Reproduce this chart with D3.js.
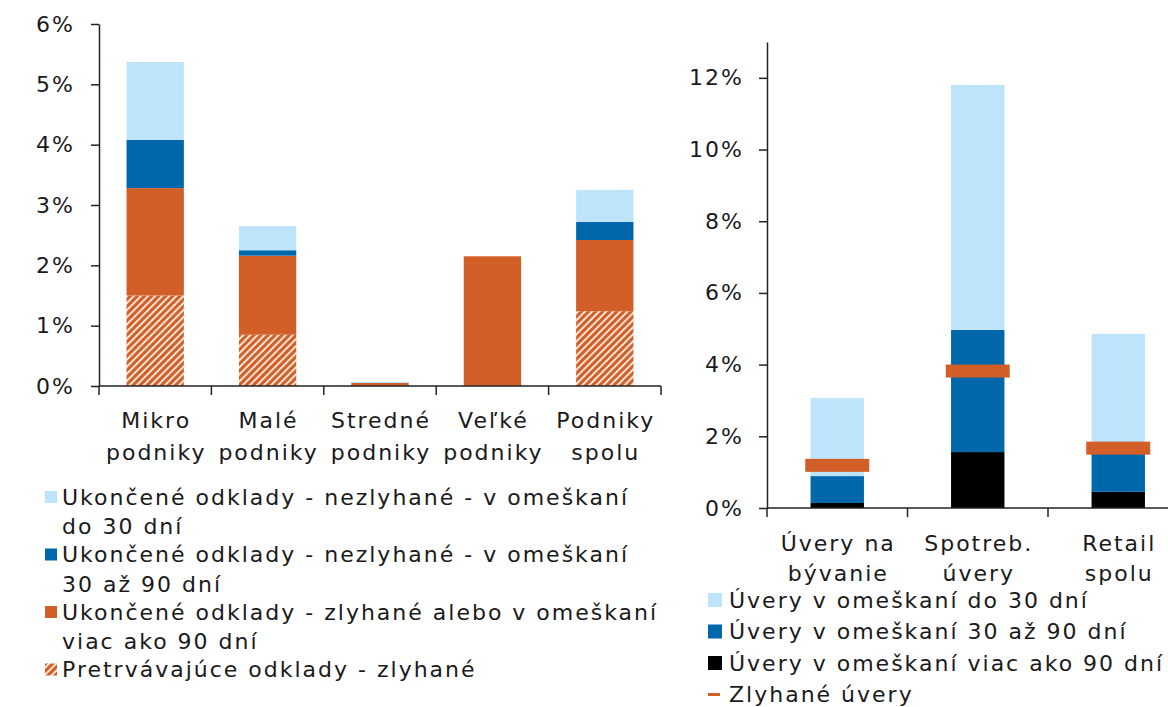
<!DOCTYPE html>
<html>
<head>
<meta charset="utf-8">
<script src="https://cdn.jsdelivr.net/npm/d3@7"></script>
<style>
  body { margin: 0; background: #fff; }
  text { font-family: "DejaVu Sans", Verdana, sans-serif; fill: #1a1a1a; letter-spacing: 2px; }
</style>
</head>
<body>
<div id="chart"></div>
<script>
// left panel - firms
var firmCats = ["Mikro podniky", "Malé podniky", "Stredné podniky", "Veľké podniky", "Podniky spolu"];
var firmCatLines = [["Mikro", "podniky"], ["Malé", "podniky"], ["Stredné", "podniky"], ["Veľké", "podniky"], ["Podniky", "spolu"]];
var firmPersist = [1.50, 0.85, 0.00, 0.00, 1.24];
var firmOver90 = [1.78, 1.31, 0.05, 2.15, 1.18];
var firm30to90 = [0.80, 0.09, 0.00, 0.00, 0.30];
var firmTo30 = [1.29, 0.40, 0.02, 0.00, 0.53];
var firmTicks = [0, 1, 2, 3, 4, 5, 6];
var firmLegend = [
  ["Ukončené odklady - nezlyhané - v omeškaní", "do 30 dní"],
  ["Ukončené odklady - nezlyhané - v omeškaní", "30 až 90 dní"],
  ["Ukončené odklady - zlyhané alebo v omeškaní", "viac ako 90 dní"],
  ["Pretrvávajúce odklady - zlyhané"]
];

// right panel - retail
var retailCats = ["Úvery na bývanie", "Spotreb. úvery", "Retail spolu"];
var retailCatLines = [["Úvery na", "bývanie"], ["Spotreb.", "úvery"], ["Retail", "spolu"]];
var retailOver90 = [0.14, 1.56, 0.45];
var retail30to90 = [0.75, 3.41, 1.25];
var retailTo30 = [2.18, 6.83, 3.16];
var retailDefault = [1.19, 3.82, 1.67];
var retailTicks = [0, 2, 4, 6, 8, 10, 12];
var retailLegend = ["Úvery v omeškaní do 30 dní", "Úvery v omeškaní 30 až 90 dní", "Úvery v omeškaní viac ako 90 dní", "Zlyhané úvery"];

var lightBlue = "#bde4fb", darkBlue = "#0067ab", orange = "#d15f27", black = "#000";
var fontSize = 22;

var svg = d3.select("#chart").append("svg")
  .attr("width", 1168).attr("height", 707);

var defs = svg.append("defs");
var pat = defs.append("pattern")
  .attr("id", "hatch")
  .attr("patternUnits", "userSpaceOnUse")
  .attr("width", 5).attr("height", 5)
  .attr("patternTransform", "rotate(45)");
pat.append("rect").attr("width", 5).attr("height", 5).attr("fill", "#fbe2d4");
pat.append("rect").attr("width", 3).attr("height", 5).attr("fill", orange);

function pct(d) { return d + "%"; }

function styleAxis(g) {
  g.selectAll("path, line").attr("stroke", "#222").attr("stroke-width", 1.5);
  g.selectAll("text").attr("font-size", fontSize).attr("fill", "#1a1a1a")
    .style("font-family", "'DejaVu Sans', Verdana, sans-serif");
}

function catLabels(g, x, cats, lines, y0, lineH) {
  cats.forEach(function(c, k) {
    var t = g.append("text")
      .attr("text-anchor", "middle")
      .attr("font-size", fontSize);
    lines[k].forEach(function(w, i) {
      t.append("tspan")
        .attr("x", x(c) + x.bandwidth() / 2 + 1)
        .attr("y", y0 + i * lineH)
        .text(w);
    });
  });
}

function catTicks(g, x, n, yAxis) {
  var r = x.range();
  var step = (r[1] - r[0]) / n;
  d3.range(n + 1).forEach(function(i) {
    g.append("line")
      .attr("x1", r[0] + i * step).attr("x2", r[0] + i * step)
      .attr("y1", yAxis).attr("y2", yAxis + 9)
      .attr("stroke", "#222").attr("stroke-width", 1.5);
  });
}

// ---------- left chart ----------
(function() {
  var left = 99, right = 661, top = 24, bottom = 386;
  var g = svg.append("g");
  var x = d3.scaleBand().domain(firmCats).range([left, right])
    .paddingInner(0.49).paddingOuter(0.245);
  var y = d3.scaleLinear().domain([0, 6]).range([bottom, top]);

  var rows = firmCats.map(function(c, i) {
    return { cat: c, persist: firmPersist[i], over90: firmOver90[i], d3090: firm30to90[i], to30: firmTo30[i] };
  });
  var keys = ["persist", "over90", "d3090", "to30"];
  var fills = { persist: "url(#hatch)", over90: orange, d3090: darkBlue, to30: lightBlue };
  var series = d3.stack().keys(keys)(rows);

  g.selectAll("g.layer").data(series).enter().append("g")
    .attr("fill", function(d) { return fills[d.key]; })
    .selectAll("rect").data(function(d) { return d; }).enter().append("rect")
      .attr("x", function(d) { return x(d.data.cat); })
      .attr("width", x.bandwidth())
      .attr("y", function(d) { return y(d[1]); })
      .attr("height", function(d) { return y(d[0]) - y(d[1]); });

  var ya = g.append("g").attr("transform", "translate(" + left + ",0)")
    .call(d3.axisLeft(y).tickValues(firmTicks).tickFormat(pct).tickSize(8).tickPadding(16).tickSizeOuter(0));
  styleAxis(ya);

  g.append("line").attr("x1", left).attr("x2", right).attr("y1", bottom).attr("y2", bottom)
    .attr("stroke", "#222").attr("stroke-width", 1.5);
  catTicks(g, x, firmCats.length, bottom);
  catLabels(g, x, firmCats, firmCatLines, 428, 32);

  // legend
  var lg = g.append("g");
  var legFills = [lightBlue, darkBlue, orange, "url(#hatch)"];
  var yy = 497;
  firmLegend.forEach(function(lines, i) {
    lg.append("rect").attr("x", 45).attr("y", yy - 6).attr("width", 12).attr("height", 12)
      .attr("fill", legFills[i]);
    lines.forEach(function(l, j) {
      lg.append("text").attr("x", 62).attr("y", yy + j * 29.5)
        .attr("dy", "0.35em").attr("font-size", fontSize).text(l);
    });
    yy += lines.length * 29.5 - 1.5;
  });
})();

// ---------- right chart ----------
(function() {
  var left = 767, top = 42, bottom = 508, step = 140.5;
  var right = left + step * retailCats.length;
  var g = svg.append("g");
  var x = d3.scaleBand().domain(retailCats).range([left, right])
    .paddingInner(0.62).paddingOuter(0.31);
  var y = d3.scaleLinear().domain([0, 13]).range([bottom, top]);

  var rows = retailCats.map(function(c, i) {
    return { cat: c, over90: retailOver90[i], d3090: retail30to90[i], to30: retailTo30[i] };
  });
  var keys = ["over90", "d3090", "to30"];
  var fills = { over90: black, d3090: darkBlue, to30: lightBlue };
  var series = d3.stack().keys(keys)(rows);

  g.selectAll("g.layer").data(series).enter().append("g")
    .attr("fill", function(d) { return fills[d.key]; })
    .selectAll("rect").data(function(d) { return d; }).enter().append("rect")
      .attr("x", function(d) { return x(d.data.cat); })
      .attr("width", x.bandwidth())
      .attr("y", function(d) { return y(d[1]); })
      .attr("height", function(d) { return y(d[0]) - y(d[1]); });

  // defaulted loans markers
  g.selectAll("rect.mark").data(retailCats).enter().append("rect")
    .attr("class", "mark")
    .attr("x", function(c) { return x(c) + x.bandwidth() / 2 - 32; })
    .attr("width", 64)
    .attr("y", function(c, i) { return y(retailDefault[i]) - 6.5; })
    .attr("height", 13)
    .attr("fill", orange);

  var ya = g.append("g").attr("transform", "translate(" + left + ",0)")
    .call(d3.axisLeft(y).tickValues(retailTicks).tickFormat(pct).tickSize(8).tickPadding(15).tickSizeOuter(0));
  styleAxis(ya);

  g.append("line").attr("x1", left).attr("x2", right).attr("y1", bottom).attr("y2", bottom)
    .attr("stroke", "#222").attr("stroke-width", 1.5);
  catTicks(g, x, retailCats.length, bottom);
  catLabels(g, x, retailCats, retailCatLines, 551, 30);

  // legend
  var lg = g.append("g");
  var legFills = [lightBlue, darkBlue, black];
  retailLegend.forEach(function(l, i) {
    var yy = 600 + i * 31.5;
    if (i < 3) {
      lg.append("rect").attr("x", 708).attr("y", yy - 7).attr("width", 14).attr("height", 14)
        .attr("fill", legFills[i]);
    } else {
      lg.append("rect").attr("x", 708).attr("y", yy - 1.5).attr("width", 12).attr("height", 3)
        .attr("fill", orange);
    }
    lg.append("text").attr("x", 729).attr("y", yy).attr("dy", "0.35em")
      .attr("font-size", fontSize).text(l);
  });
})();
</script>
</body>
</html>
